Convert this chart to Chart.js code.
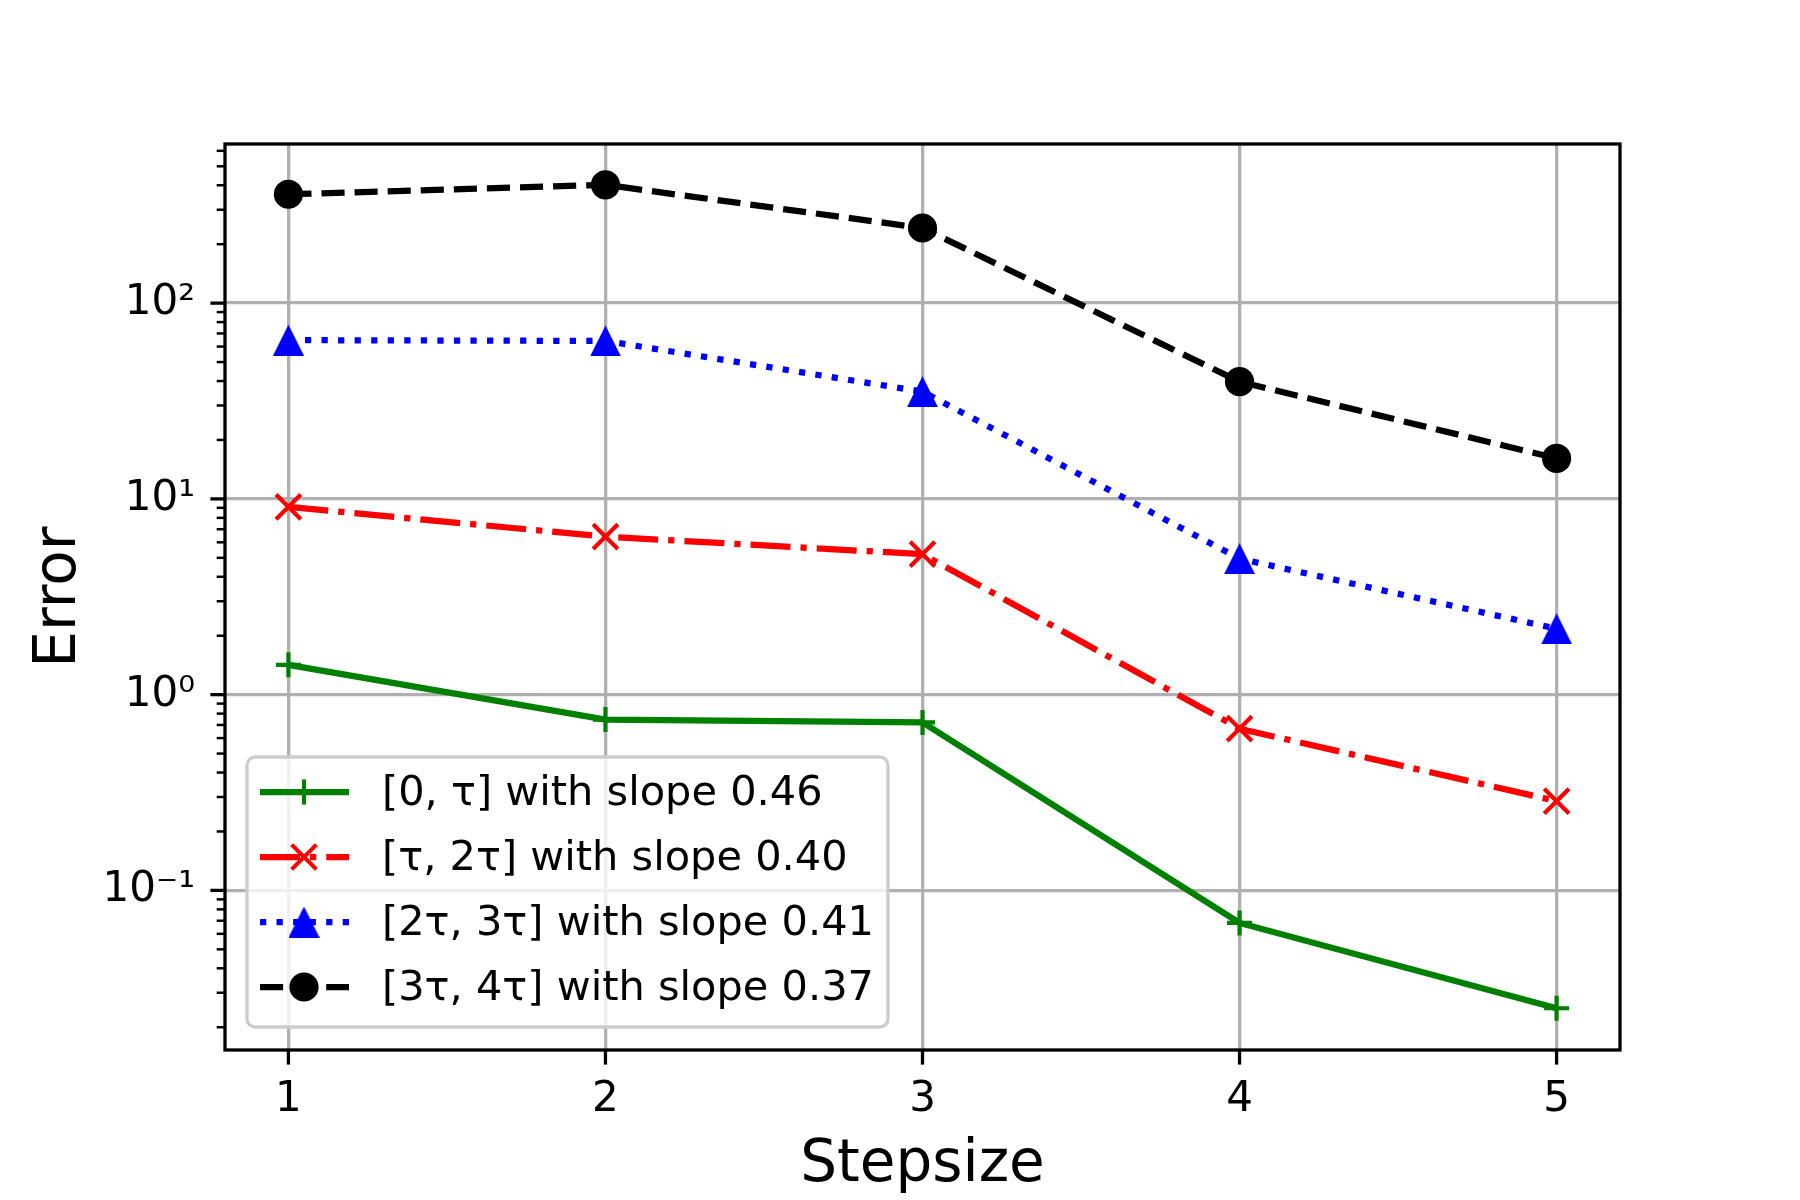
<!DOCTYPE html>
<html>
<head>
<meta charset="utf-8">
<title>Error vs Stepsize</title>
<script src="https://cdn.jsdelivr.net/npm/chart.js@4.4.1/dist/chart.umd.min.js"></script>
<style>
  html, body { margin: 0; padding: 0; background: #fff; }
  canvas { display: block; }
</style>
</head>
<body>
<canvas id="errChart" width="1800" height="1200"></canvas>
<script>
// values
let stepsizes = [1, 2, 3, 4, 5];
let err0 = [1.42, 0.746, 0.721, 0.0682, 0.0250];   // [0, tau]
let err1 = [9.1, 6.41, 5.22, 0.67, 0.286];         // [tau, 2tau]
let err2 = [64.7, 64.1, 35.3, 4.95, 2.17];         // [2tau, 3tau]
let err3 = [360, 402, 242, 39.7, 16.1];            // [3tau, 4tau]
let seriesLabels = [
    '[0, τ] with slope 0.46',
    '[τ, 2τ] with slope 0.40',
    '[2τ, 3τ] with slope 0.41',
    '[3τ, 4τ] with slope 0.37'
];
let xTicks = [1, 2, 3, 4, 5];
let yMajorTicks = [0.1, 1, 10, 100];
let yTickLabels = ['10⁻¹', '10⁰', '10¹', '10²'];

const X_MIN = 0.8, X_MAX = 5.2;
const Y_MIN = 0.0153, Y_MAX = 650;

// matplotlib-ish sizes at 300 dpi
const LW = 6.25;        // 1.5pt line
const MEW = 4.2;        // marker edge
const GRID_W = 3.3;     // 0.8pt
const FONT = 'DejaVu Sans';

// minor log ticks 2..9 x 10^n inside the axis range
let yMinorTicks = [];
for (let e = -2; e <= 2; e++) {
    for (let m = 2; m <= 9; m++) {
        let v = m * Math.pow(10, e);
        if (v >= Y_MIN && v <= Y_MAX) yMinorTicks.push(v);
    }
}
let yAllTicks = yMajorTicks.concat(yMinorTicks).sort((a, b) => a - b);

function majorIndex(v) {
    return yMajorTicks.findIndex(m => Math.abs(Math.log10(m) - Math.log10(v)) < 1e-6);
}

function triangleMarker(color, size) {
    const cv = document.createElement('canvas');
    cv.width = size;
    cv.height = size;
    const t = cv.getContext('2d');
    t.fillStyle = color;
    t.beginPath();
    t.moveTo(size / 2, 0);
    t.lineTo(size, size);
    t.lineTo(0, size);
    t.closePath();
    t.fill();
    return cv;
}
const triBlue = triangleMarker('#0000ff', 31);

function pts(vals) {
    return stepsizes.map((s, i) => ({ x: s, y: vals[i] }));
}

function drawLegendMarker(c, ds, x, y) {
    c.save();
    c.setLineDash([]);
    c.strokeStyle = ds.borderColor;
    c.fillStyle = ds.borderColor;
    c.lineWidth = MEW;
    const r = ds.pointRadius;
    if (ds.pointStyle === 'cross') {
        c.beginPath();
        c.moveTo(x - r, y); c.lineTo(x + r, y);
        c.moveTo(x, y - r); c.lineTo(x, y + r);
        c.stroke();
    } else if (ds.pointStyle === 'crossRot') {
        const d = r * Math.SQRT1_2;
        c.beginPath();
        c.moveTo(x - d, y - d); c.lineTo(x + d, y + d);
        c.moveTo(x - d, y + d); c.lineTo(x + d, y - d);
        c.stroke();
    } else if (ds.pointStyle === 'circle') {
        c.beginPath();
        c.arc(x, y, r, 0, Math.PI * 2);
        c.fill();
        c.stroke();
    } else {
        const img = ds.pointStyle;
        c.drawImage(img, x - img.width / 2, y - img.height / 2);
    }
    c.restore();
}

const axisDecor = {
    id: 'axisDecor',
    afterDraw(chart) {
        const c = chart.ctx;
        const a = chart.chartArea;
        const xs = chart.scales.x, ys = chart.scales.y;
        c.save();
        c.strokeStyle = '#000';
        // y tick marks, major and minor
        yAllTicks.forEach(v => {
            const py = ys.getPixelForValue(v);
            const major = majorIndex(v) >= 0;
            c.lineWidth = major ? 3.3 : 2.5;
            const len = major ? 14.6 : 8.3;
            c.beginPath();
            c.moveTo(a.left - len, py);
            c.lineTo(a.left, py);
            c.stroke();
        });
        // x tick marks
        c.lineWidth = 3.3;
        xTicks.forEach(v => {
            const px = xs.getPixelForValue(v);
            c.beginPath();
            c.moveTo(px, a.bottom);
            c.lineTo(px, a.bottom + 14.6);
            c.stroke();
        });
        // spines
        c.lineWidth = GRID_W;
        c.strokeRect(a.left, a.top, a.right - a.left, a.bottom - a.top);

        // legend, lower left inside the axes
        c.font = '41.5px "' + FONT + '"';
        let textW = 0;
        seriesLabels.forEach(t => { textW = Math.max(textW, c.measureText(t).width); });
        const boxL = a.left + 22, boxH = 270;
        const boxT = a.bottom - 23 - boxH;
        const boxW = 135 + textW + 14;
        c.beginPath();
        c.roundRect(boxL, boxT, boxW, boxH, 8.3);
        c.fillStyle = 'rgba(255,255,255,0.8)';
        c.fill();
        c.strokeStyle = '#cccccc';
        c.lineWidth = GRID_W;
        c.stroke();

        chart.data.datasets.forEach((ds, i) => {
            const ry = boxT + 35 + i * 65;
            c.save();
            c.strokeStyle = ds.borderColor;
            c.lineWidth = LW;
            c.setLineDash(ds.borderDash || []);
            c.beginPath();
            c.moveTo(boxL + 13, ry);
            c.lineTo(boxL + 102, ry);
            c.stroke();
            c.restore();
            drawLegendMarker(c, ds, boxL + 57, ry);
            c.fillStyle = '#000';
            c.textAlign = 'left';
            c.textBaseline = 'middle';
            c.fillText(seriesLabels[i], boxL + 135, ry + 2);
        });
        c.restore();
    }
};

Chart.defaults.font.family = FONT;
Chart.defaults.color = '#000';

let errCtx = document.getElementById('errChart').getContext('2d');
let errChart = new Chart(errCtx, {
    type: 'line',
    data: {
        datasets: [{
            label: seriesLabels[0],
            data: pts(err0),
            borderColor: '#008000',
            backgroundColor: '#008000',
            borderWidth: LW,
            pointStyle: 'cross',
            pointRadius: 12.5,
            pointBorderWidth: MEW,
            pointBorderColor: '#008000',
            pointBackgroundColor: '#008000',
            order: 4
        }, {
            label: seriesLabels[1],
            data: pts(err1),
            borderColor: '#ff0000',
            backgroundColor: '#ff0000',
            borderWidth: LW,
            borderDash: [40, 10, 6.25, 10],
            pointStyle: 'crossRot',
            pointRadius: 17.5,
            pointBorderWidth: MEW,
            pointBorderColor: '#ff0000',
            pointBackgroundColor: '#ff0000',
            order: 3
        }, {
            label: seriesLabels[2],
            data: pts(err2),
            borderColor: '#0000ff',
            backgroundColor: '#0000ff',
            borderWidth: LW,
            borderDash: [6.25, 10.3],
            pointStyle: triBlue,
            pointRadius: 15,
            pointBorderWidth: 0,
            pointBorderColor: '#0000ff',
            pointBackgroundColor: '#0000ff',
            order: 2
        }, {
            label: seriesLabels[3],
            data: pts(err3),
            borderColor: '#000000',
            backgroundColor: '#000000',
            borderWidth: LW,
            borderDash: [23.1, 10],
            pointStyle: 'circle',
            pointRadius: 12.5,
            pointBorderWidth: MEW,
            pointBorderColor: '#000000',
            pointBackgroundColor: '#000000',
            order: 1
        }]
    },
    options: {
        responsive: false,
        devicePixelRatio: 1,
        animation: false,
        events: [],
        layout: { padding: { left: 0, top: 144, right: 180, bottom: 0 } },
        elements: { line: { tension: 0, fill: false } },
        plugins: {
            legend: { display: false },
            tooltip: { enabled: false }
        },
        scales: {
            x: {
                type: 'linear',
                min: X_MIN,
                max: X_MAX,
                afterBuildTicks: (scale) => {
                    scale.ticks = xTicks.map(v => ({ value: v }));
                },
                afterFit: (scale) => { scale.height = 150; },
                grid: { color: '#b0b0b0', lineWidth: GRID_W, drawTicks: false },
                border: { display: false },
                ticks: {
                    autoSkip: false,
                    maxRotation: 0,
                    padding: 29,
                    font: { size: 42, lineHeight: 1 },
                    callback: (v) => String(v)
                },
                title: {
                    display: true,
                    text: 'Stepsize',
                    font: { size: 58, lineHeight: 1 },
                    padding: { top: 0, bottom: 5 }
                }
            },
            y: {
                type: 'logarithmic',
                min: Y_MIN,
                max: Y_MAX,
                afterBuildTicks: (scale) => {
                    scale.ticks = yAllTicks.map(v => ({ value: v, major: majorIndex(v) >= 0 }));
                },
                afterFit: (scale) => { scale.width = 225; },
                grid: {
                    color: (c) => (c.tick && majorIndex(c.tick.value) >= 0) ? '#b0b0b0' : 'rgba(0,0,0,0)',
                    lineWidth: GRID_W,
                    drawTicks: false
                },
                border: { display: false },
                ticks: {
                    autoSkip: false,
                    padding: 30,
                    font: { size: 42, lineHeight: 1 },
                    callback: (v) => {
                        const k = majorIndex(v);
                        return k >= 0 ? yTickLabels[k] : '';
                    }
                },
                title: {
                    display: true,
                    text: 'Error',
                    font: { size: 58, lineHeight: 1 },
                    padding: { top: 31, bottom: 0 }
                }
            }
        }
    },
    plugins: [axisDecor]
});
</script>
</body>
</html>
